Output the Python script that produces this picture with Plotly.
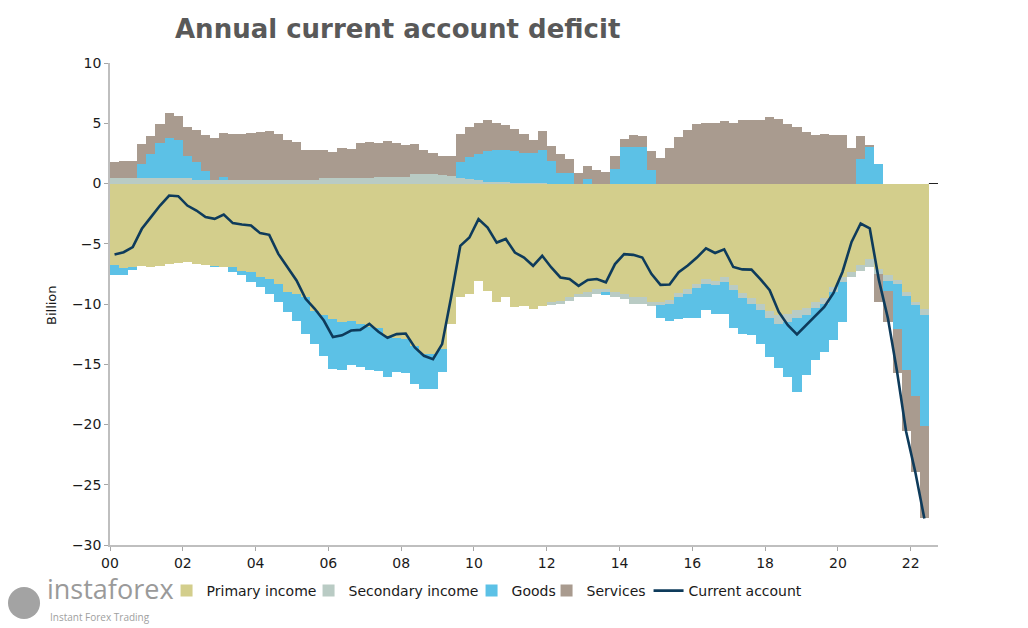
import plotly.graph_objects as go

# ---------------- data (quarterly, 2000Q1 .. 2022Q2), billions ----------------
quarters = [f"{y}Q{q}" for y in range(2000, 2023) for q in range(1, 5)][:90]

primary_income = [
    -6.78, -7.05, -6.9, -6.86, -6.9, -6.86, -6.72, -6.56, -6.5, -6.65,
    -6.8, -6.85, -6.9, -6.94, -7.22, -7.36, -7.77, -7.91, -8.33, -9.02,
    -9.16, -9.43, -10.54, -10.95, -11.23, -11.51, -11.37, -11.7, -11.92, -11.95,
    -12.64, -12.85, -12.9, -13.47, -14.16, -14.16, -13.74, -11.67, -9.46, -9.18,
    -8.07, -8.9, -9.87, -9.46, -10.29, -10.15, -10.43, -10.15, -9.87, -9.73,
    -9.46, -9.18, -9.04, -8.77, -8.77, -9.04, -9.18, -9.46, -9.46, -9.85,
    -9.8, -9.7, -9.1, -8.75, -8.35, -7.95, -8.05, -7.8, -8.45, -9.1,
    -9.5, -10.0, -10.55, -10.9, -10.8, -10.5, -10.35, -9.85, -9.5, -8.6,
    -7.75, -7.34, -6.8, -6.25, -7.1, -7.63, -8.0, -9.0, -9.8, -10.4]

secondary_income = [
    0.45, 0.45, 0.45, 0.45, 0.45, 0.45, 0.45, 0.45, 0.45, 0.25,
    0.25, 0.25, 0.25, 0.25, 0.25, 0.25, 0.25, 0.3, 0.3, 0.3,
    0.3, 0.3, 0.3, 0.45, 0.45, 0.45, 0.45, 0.45, 0.45, 0.55,
    0.55, 0.55, 0.55, 0.8, 0.8, 0.8, 0.7, 0.64, 0.45, 0.4,
    0.28, 0.1, 0.1, 0.1, 0.05, 0.05, 0.02, 0.02, -0.25, -0.27,
    -0.27, -0.28, -0.4, -0.4, -0.27, -0.42, -0.42, -0.54, -0.54, -0.28,
    -0.3, -0.3, -0.35, -0.38, -0.36, -0.35, -0.39, -0.37, -0.4, -0.44,
    -0.46, -0.51, -0.65, -0.72, -0.69, -0.7, -0.58, -0.52, -0.46, -0.4,
    -0.42, -0.41, -0.45, -0.65, -0.4, -0.42, -0.35, -0.35, -0.3, -0.5]

goods = [
    -0.83, -0.55, -0.3, 1.18, 2.0, 2.9, 3.35, 3.12, 1.8, 1.52,
    0.77, -0.05, 0.33, -0.42, -0.41, -0.83, -0.83, -1.25, -1.52, -1.68,
    -2.24, -3.07, -2.76, -3.35, -4.17, -3.99, -3.73, -3.5, -3.58, -3.6,
    -3.4, -2.8, -2.8, -3.2, -2.9, -2.9, -1.94, 0.0, 1.3, 1.76,
    2.16, 2.56, 2.67, 2.72, 2.66, 2.52, 2.55, 2.75, 1.85, 0.9,
    0.9, 0.0, 0.4, 0.0, -0.2, 1.19, 2.99, 2.99, 3.0, 1.08,
    -1.1, -1.37, -1.8, -2.07, -2.49, -2.21, -2.35, -2.62, -3.18, -2.91,
    -2.63, -2.77, -3.19, -3.73, -4.56, -6.1, -4.98, -4.29, -4.02, -4.0,
    -3.32, 0.0, 2.05, 3.05, 1.58, -0.83, -3.73, -6.15, -7.5, -9.2]

services = [
    1.32, 1.45, 1.45, 1.66, 1.52, 1.6, 2.06, 2.07, 2.43, 2.68,
    3.02, 3.54, 3.62, 3.87, 3.87, 3.95, 4.0, 4.02, 3.82, 3.32,
    3.13, 2.49, 2.49, 2.29, 2.2, 2.48, 2.43, 2.9, 2.98, 2.85,
    2.99, 2.77, 2.67, 2.44, 2.02, 1.77, 1.6, 1.66, 2.36, 2.49,
    2.62, 2.6, 2.21, 2.02, 1.8, 1.53, 1.03, 1.55, 1.25, 1.53,
    1.12, 0.91, 1.02, 1.13, 0.97, 1.11, 0.69, 1.03, 0.96, 1.6,
    2.13, 2.96, 3.9, 4.45, 4.9, 5.03, 5.06, 5.17, 5.0, 5.23,
    5.31, 5.31, 5.5, 5.37, 4.95, 4.67, 4.26, 4.04, 4.12, 4.04,
    4.04, 2.93, 1.87, 0.1, -2.35, -2.63, -3.64, -5.0, -6.35, -7.7]

current_account = [
    -5.89, -5.7, -5.28, -3.76, -2.79, -1.83, -1.0, -1.05, -1.83, -2.24,
    -2.79, -2.93, -2.57, -3.29, -3.4, -3.49, -4.12, -4.26, -5.84, -6.94,
    -8.05, -9.57, -10.4, -11.37, -12.75, -12.6, -12.2, -12.15, -11.65, -12.3,
    -12.8, -12.5, -12.45, -13.6, -14.3, -14.58, -13.33, -9.4, -5.17, -4.48,
    -2.95, -3.65, -4.9, -4.6, -5.73, -6.14, -6.83, -6.0, -6.97, -7.8,
    -7.93, -8.49, -8.0, -7.93, -8.2, -6.69, -5.86, -5.92, -6.14, -7.5,
    -8.41, -8.38, -7.36, -6.8, -6.15, -5.38, -5.77, -5.46, -6.93, -7.13,
    -7.15, -7.95, -8.85, -10.66, -11.76, -12.53, -11.76, -10.93, -10.24, -9.1,
    -7.34, -4.85, -3.32, -3.73, -8.0, -11.2, -15.6, -20.6, -23.93, -27.8]

tick_years = list(range(2000, 2023, 2))
tick_labels = [f"{y % 100:02d}" for y in tick_years]
y_ticks = [10, 5, 0, -5, -10, -15, -20, -25, -30]

# quarter label -> position on a numeric time axis (bar centre)
x_pos = [int(q[:4]) + (int(q[-1]) - 1) / 4 + 0.125 for q in quarters]
x_end = 2022.75

FONT = "DejaVu Sans"
colors = {
    "Primary income": "#D3CE8C",
    "Secondary income": "#B9CBC4",
    "Goods": "#5CC1E6",
    "Services": "#A99B8F",
}
# width of each legend entry's text slot (px) - tightens legend spacing
legend_slot = {"Primary income": 97, "Secondary income": 118, "Goods": 30,
               "Services": 57, "Current account": 120}

fig = go.Figure()
for name, vals in [("Primary income", primary_income),
                   ("Secondary income", secondary_income),
                   ("Goods", goods),
                   ("Services", services)]:
    fig.add_trace(go.Bar(x=x_pos, y=vals, width=0.25, name=name,
                         legendwidth=legend_slot[name],
                         marker=dict(color=colors[name], line=dict(width=0))))

fig.add_trace(go.Scatter(x=x_pos, y=current_account, mode="lines",
                         name="Current account",
                         legendwidth=legend_slot["Current account"],
                         line=dict(color="#0E3B5B", width=2.6)))

fig.update_layout(
    width=1028, height=628,
    barmode="relative", bargap=0,
    paper_bgcolor="white", plot_bgcolor="white",
    margin=dict(l=110, r=90, t=63, b=83),
    font=dict(family=FONT, size=14, color="#1a1a1a"),
    showlegend=True,
    legend=dict(orientation="h", x=0.459, xanchor="center",
                y=-0.0954, yanchor="middle", itemwidth=30,
                font=dict(size=14, color="#1a1a1a"),
                bgcolor="rgba(0,0,0,0)"),
    xaxis=dict(range=[2000, x_end], tickmode="array",
               tickvals=tick_years, ticktext=tick_labels,
               ticks="outside", ticklen=4, tickcolor="#a6a6a6",
               showline=True, linecolor="#bfbfbf", linewidth=1.5,
               showgrid=False, zeroline=False,
               tickfont=dict(size=14)),
    yaxis=dict(range=[-30, 10], tickmode="array", tickvals=y_ticks,
               ticks="outside", ticklen=4, tickcolor="#a6a6a6",
               showline=True, linecolor="#bfbfbf", linewidth=1.5,
               showgrid=False, zeroline=False,
               tickfont=dict(size=14)),
)

# zero axis line, visible only to the right of the last bar
fig.add_shape(type="line", xref="x", yref="y",
              x0=x_pos[-1] + 0.125, x1=x_end, y0=0, y1=0,
              line=dict(color="#222222", width=1), layer="below")

fig.add_annotation(text="<b>Annual current account deficit</b>",
                   xref="paper", yref="paper", x=0.0761, y=1.0705,
                   xanchor="left", yanchor="middle", showarrow=False,
                   font=dict(family=FONT, size=26, color="#595959"))
fig.add_annotation(text="Billion", xref="paper", yref="paper",
                   x=-0.070, y=0.498, textangle=-90, showarrow=False,
                   xanchor="center", yanchor="middle",
                   font=dict(family=FONT, size=13, color="#1a1a1a"))

# watermark
fig.add_shape(type="circle", xref="paper", yref="paper",
              x0=-0.1232, x1=-0.0845, y0=-0.1535, y1=-0.0871,
              fillcolor="#a3a3a3", line=dict(width=0))
fig.add_annotation(text="instaforex", xref="paper", yref="paper",
                   x=-0.0785, y=-0.133, xanchor="left", yanchor="bottom",
                   showarrow=False,
                   font=dict(family="Open Sans", size=27, color="#9a9a9a"))
fig.add_annotation(text="Instant Forex Trading", xref="paper", yref="paper",
                   x=-0.0749, y=-0.150, xanchor="left", yanchor="middle",
                   showarrow=False,
                   font=dict(family="Open Sans", size=10, color="#a0a0a0"))

fig.write_html("out.html", config={"displayModeBar": False},
               post_script="document.body.style.margin='0px';")
